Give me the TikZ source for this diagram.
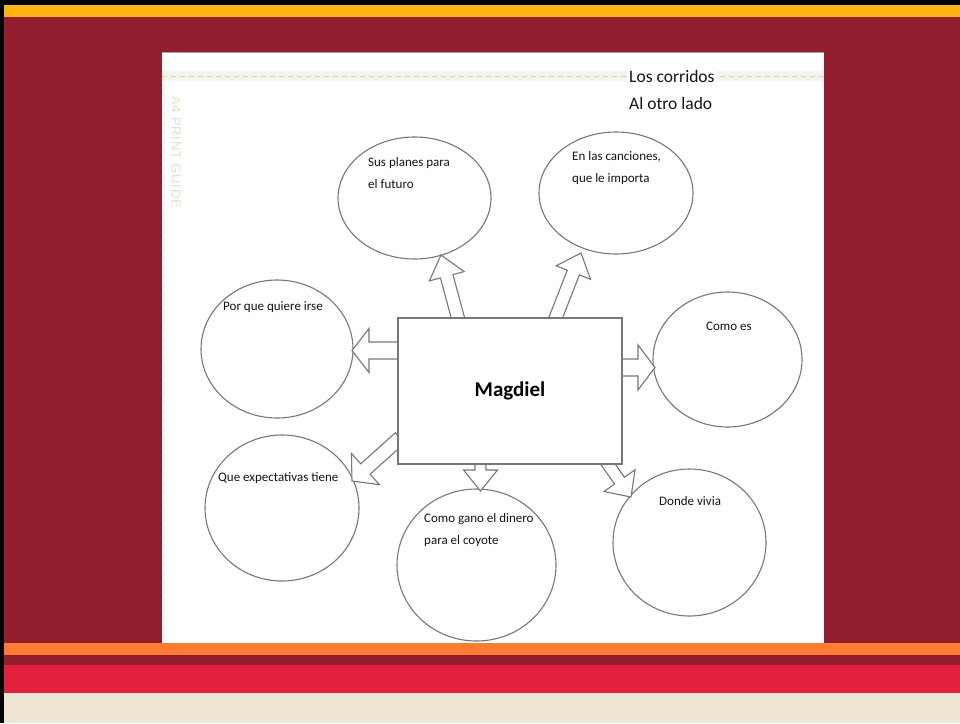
\documentclass[tikz,border=0pt]{standalone}
\usepackage{fontspec}
\setmainfont{Carlito}
\newfontfamily\guidefont[LetterSpace=6]{Liberation Sans}
\usetikzlibrary{shapes.geometric,calc}
\definecolor{gold}{HTML}{FDB414}
\definecolor{maroon}{HTML}{921D2F}
\definecolor{orangeb}{HTML}{FF7B31}
\definecolor{redb}{HTML}{E0203D}
\definecolor{beige}{HTML}{EDE4D2}
\definecolor{lineg}{HTML}{777777}
\definecolor{guideg}{HTML}{C9D6BA}
\definecolor{guideband}{HTML}{F1F5EC}
\definecolor{guidetext}{HTML}{D6E6C6}
\tikzset{
  ell/.style={ellipse, draw=lineg, line width=1.1pt, fill=white, inner sep=0pt},
  rectbox/.style={rectangle, draw=lineg, line width=1.1pt, fill=white, inner sep=0pt},
  blockarrow/.style={draw=lineg, line width=1.1pt, fill=white, line join=miter},
  lbl/.style={inner sep=0pt, align=left, font=\fontsize{13}{22}\selectfont, text=black!92},
  title/.style={inner sep=2pt, fill=white, font=\fontsize{17.5}{20}\selectfont, text=black!92}
}
\newcommand{\blkarrow}[5]{%
  \coordinate (hb) at ($(#2)!#5!(#1)$);
  \draw[blockarrow] ($(#1)!#3!90:(#2)$) -- ($(hb)!#3!90:(#2)$) -- ($(hb)!#4!90:(#2)$)
    -- (#2) -- ($(hb)!#4!-90:(#2)$) -- ($(hb)!#3!-90:(#2)$) -- ($(#1)!#3!-90:(#2)$) -- cycle;
}
\begin{document}
\begin{tikzpicture}[x=1pt,y=-1pt]
\useasboundingbox (0,0) rectangle (960,723);
% background bands
\fill[maroon] (0,0) rectangle (960,723);
\fill[black] (0,0) rectangle (960,4.7);
\fill[gold] (0,4.7) rectangle (960,17);
\fill[orangeb] (0,643) rectangle (960,655);
\fill[maroon] (0,655) rectangle (960,665);
\fill[redb] (0,665) rectangle (960,693);
\fill[beige] (0,693) rectangle (960,723);
\fill[black] (0,0) rectangle (4,723);
% white panel
\fill[white] (162,52) rectangle (824,643);
\draw[black!35, line width=0.6pt] (162,52) -- (824,52);
% print guide
\fill[guideband] (162,71) rectangle (824,81);
\draw[guideg, line width=1pt, dash pattern=on 5pt off 4pt] (162,76) -- (824,76);
\draw[guideg!45, line width=0.8pt, dash pattern=on 5pt off 4pt] (164.5,76) -- (164.5,643);
\node[rotate=-90, text=guidetext, font=\guidefont\fontsize{13}{13}\selectfont, inner sep=0pt] (guide) at (176,152) {A4 PRINT GUIDE};
% titles
\node[title, anchor=west] (t1) at (627,76) {Los corridos};
\node[title, anchor=west, fill=none] (t2) at (627,103) {Al otro lado};
% ellipses
\node[ell, minimum width=153pt, minimum height=122pt] (c1) at (414.5,198) {};
\node[ell, minimum width=154pt, minimum height=122pt] (c2) at (616,193) {};
\node[ell, minimum width=152pt, minimum height=138pt] (c3) at (277,349) {};
\node[ell, minimum width=149pt, minimum height=135pt] (c4) at (727.5,359.5) {};
\node[ell, minimum width=154pt, minimum height=146pt] (c5) at (282,508) {};
\node[ell, minimum width=159pt, minimum height=152pt] (c6) at (476.5,565) {};
\node[ell, minimum width=153pt, minimum height=147pt] (c7) at (689.5,542.5) {};
% ellipse labels
\node[lbl, anchor=west] (l1) at (368,173) {Sus planes para\\el futuro};
\node[lbl, anchor=west] (l2) at (572,168.5) {En las canciones,\\que le importa};
\node[lbl, anchor=west] (l3) at (223,307) {Por que quiere irse};
\node[lbl, anchor=west] (l4) at (706,326) {Como es};
\node[lbl, anchor=west] (l5) at (218,478) {Que expectativas tiene};
\node[lbl, anchor=west] (l6) at (424,530.5) {Como gano el dinero\\para el coyote};
\node[lbl, anchor=west] (l7) at (659,501) {Donde vivia};
% arrow end points
\coordinate (a1s) at (459,322); \coordinate (a1t) at (441,255);
\coordinate (a2s) at (554,322); \coordinate (a2t) at (581,253);
\coordinate (a3s) at (402,350.5); \coordinate (a3t) at (352,350.5);
\coordinate (a4s) at (618,367.5); \coordinate (a4t) at (655,367.5);
\coordinate (a5s) at (400,438); \coordinate (a5t) at (352,481);
\coordinate (a6s) at (480.5,460); \coordinate (a6t) at (480.5,491);
\coordinate (a7s) at (605,460); \coordinate (a7t) at (631,497);
\blkarrow{a1s}{a1t}{6.5pt}{18pt}{22pt}
\blkarrow{a2s}{a2t}{6.5pt}{18.5pt}{21pt}
\blkarrow{a3s}{a3t}{8.5pt}{22pt}{17pt}
\blkarrow{a4s}{a4t}{8.5pt}{22.5pt}{17pt}
\blkarrow{a5s}{a5t}{7pt}{21pt}{18pt}
\blkarrow{a6s}{a6t}{5.5pt}{17pt}{21pt}
\blkarrow{a7s}{a7t}{6pt}{19pt}{20pt}
% central box
\node[rectbox, minimum width=224pt, minimum height=146pt, font=\fontsize{21}{24}\selectfont\bfseries] (m) at (510,391) {Magdiel};
\end{tikzpicture}
\end{document}
